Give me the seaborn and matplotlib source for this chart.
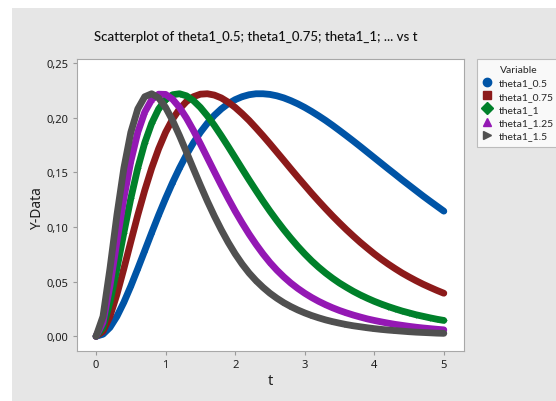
import matplotlib
matplotlib.use("Agg")
import matplotlib.pyplot as plt
from matplotlib.lines import Line2D
from matplotlib.patches import Rectangle
from matplotlib.ticker import FuncFormatter
import pandas as pd
import seaborn as sns

# values
t = [0.0, 0.1, 0.2, 0.3, 0.4, 0.5, 0.6, 0.7, 0.8, 0.9,
     1.0, 1.1, 1.2, 1.3, 1.4, 1.5, 1.6, 1.7, 1.8, 1.9,
     2.0, 2.1, 2.2, 2.3, 2.4, 2.5, 2.6, 2.7, 2.8, 2.9,
     3.0, 3.1, 3.2, 3.3, 3.4, 3.5, 3.6, 3.7, 3.8, 3.9,
     4.0, 4.1, 4.2, 4.3, 4.4, 4.5, 4.6, 4.7, 4.8, 4.9, 5.0]

theta1_0_5 = [0.0000, 0.0019, 0.0081, 0.0182, 0.0311, 0.0459, 0.0619, 0.0783, 0.0948, 0.1109,
              0.1262, 0.1406, 0.1539, 0.1661, 0.1770, 0.1866, 0.1949, 0.2021, 0.2080, 0.2128,
              0.2165, 0.2192, 0.2210, 0.2219, 0.2219, 0.2213, 0.2200, 0.2181, 0.2156, 0.2127,
              0.2094, 0.2057, 0.2017, 0.1975, 0.1930, 0.1883, 0.1835, 0.1786, 0.1736, 0.1685,
              0.1634, 0.1583, 0.1532, 0.1482, 0.1431, 0.1382, 0.1333, 0.1284, 0.1237, 0.1191, 0.1145]

theta1_0_75 = [0.0000, 0.0045, 0.0182, 0.0383, 0.0619, 0.0866, 0.1109, 0.1335, 0.1539, 0.1716,
               0.1866, 0.1986, 0.2080, 0.2148, 0.2192, 0.2215, 0.2219, 0.2207, 0.2181, 0.2142,
               0.2094, 0.2037, 0.1975, 0.1906, 0.1835, 0.1761, 0.1685, 0.1609, 0.1532, 0.1456,
               0.1382, 0.1308, 0.1237, 0.1168, 0.1101, 0.1037, 0.0975, 0.0916, 0.0859, 0.0806,
               0.0754, 0.0706, 0.0661, 0.0619, 0.0579, 0.0543, 0.0509, 0.0477, 0.0448, 0.0420, 0.0394]

theta1_1 = [0.0000, 0.0081, 0.0311, 0.0619, 0.0948, 0.1262, 0.1539, 0.1770, 0.1949, 0.2080,
            0.2165, 0.2210, 0.2219, 0.2200, 0.2156, 0.2094, 0.2017, 0.1930, 0.1835, 0.1736,
            0.1634, 0.1532, 0.1431, 0.1333, 0.1237, 0.1145, 0.1058, 0.0975, 0.0897, 0.0823,
            0.0754, 0.0690, 0.0632, 0.0579, 0.0531, 0.0487, 0.0448, 0.0411, 0.0378, 0.0348,
            0.0320, 0.0295, 0.0272, 0.0251, 0.0231, 0.0214, 0.0197, 0.0183, 0.0169, 0.0156, 0.0145]

theta1_1_25 = [0.0000, 0.0127, 0.0459, 0.0866, 0.1262, 0.1601, 0.1866, 0.2051, 0.2165, 0.2215,
               0.2213, 0.2169, 0.2094, 0.1996, 0.1883, 0.1761, 0.1634, 0.1507, 0.1382, 0.1261,
               0.1145, 0.1037, 0.0935, 0.0841, 0.0754, 0.0675, 0.0605, 0.0543, 0.0487, 0.0438,
               0.0394, 0.0355, 0.0320, 0.0289, 0.0261, 0.0236, 0.0214, 0.0194, 0.0176, 0.0159,
               0.0145, 0.0132, 0.0120, 0.0109, 0.0100, 0.0091, 0.0083, 0.0076, 0.0070, 0.0064, 0.0059]

theta1_1_5 = [0.0000, 0.0182, 0.0619, 0.1109, 0.1539, 0.1866, 0.2080, 0.2192, 0.2219, 0.2181,
              0.2094, 0.1975, 0.1835, 0.1685, 0.1532, 0.1382, 0.1237, 0.1101, 0.0975, 0.0859,
              0.0754, 0.0661, 0.0579, 0.0509, 0.0448, 0.0394, 0.0348, 0.0307, 0.0272, 0.0241,
              0.0214, 0.0190, 0.0169, 0.0150, 0.0134, 0.0120, 0.0107, 0.0096, 0.0087, 0.0078,
              0.0070, 0.0063, 0.0057, 0.0052, 0.0047, 0.0042, 0.0038, 0.0035, 0.0032, 0.0029, 0.0027]

names = ["theta1_0.5", "theta1_0.75", "theta1_1", "theta1_1.25", "theta1_1.5"]
series = [theta1_0_5, theta1_0_75, theta1_1, theta1_1_25, theta1_1_5]
colors = ["#0054a6", "#8c1a1a", "#00802a", "#9418b4", "#505050"]
markers = ["o", "s", "D", "^", ">"]

y_ticks = [0.0, 0.05, 0.10, 0.15, 0.20, 0.25]
x_ticks = [0, 1, 2, 3, 4, 5]

rows = []
for name, vals in zip(names, series):
    for tt, v in zip(t, vals):
        rows.append({"t": tt, "Y-Data": v, "Variable": name})
df = pd.DataFrame(rows)

# %%
sns.set_style("white")
plt.rcParams["font.family"] = ["Noto Sans", "DejaVu Sans"]

W, H = 556, 402
fig = plt.figure(figsize=(W / 100, H / 100), dpi=100)
fig.patch.set_facecolor("white")
fig.add_artist(Rectangle((12 / W, 0), 1 - 12 / W, (H - 9) / H, transform=fig.transFigure,
                         facecolor="#e6e6e6", edgecolor="none", zorder=0))

left, right, top, bottom = 76.5, 464, 60, 351.5
ax = fig.add_axes([left / W, (H - bottom) / H, (right - left) / W, (bottom - top) / H])
ax.set_facecolor("white")

for name, c, m in zip(names, colors, markers):
    sub = df[df["Variable"] == name]
    sns.lineplot(data=sub, x="t", y="Y-Data", color=c, linewidth=4.9, sort=False,
                 estimator=None, ax=ax, legend=False, solid_capstyle="round",
                 solid_joinstyle="round")
    sns.scatterplot(data=sub, x="t", y="Y-Data", color=c, marker=m, s=10, linewidth=0,
                    ax=ax, legend=False)

ax.set_xlim(-0.281, 5.29)
ax.set_ylim(-0.0130, 0.2537)
ax.set_xticks(x_ticks)
ax.set_yticks(y_ticks)
ax.yaxis.set_major_formatter(FuncFormatter(lambda v, _: f"{v:.2f}".replace(".", ",")))
ax.tick_params(direction="out", length=3, width=0.8, color="#9a9a9a",
               labelcolor="#1e1e1e", labelsize=8, pad=3)
ax.tick_params(axis="both", which="both", bottom=True, left=True)
for sp in ax.spines.values():
    sp.set_color("#a8a8a8")
    sp.set_linewidth(0.8)
ax.set_xlabel("")
ax.set_ylabel("")

fig.text(256 / W, 1 - 37 / H, "Scatterplot of theta1_0.5; theta1_0.75; theta1_1; ... vs t",
         ha="center", va="center", fontsize=9.5, color="#111111",
         family=["Lato", "DejaVu Sans"], fontweight="medium")
fig.text(38 / W, 1 - 209 / H, "Y-Data", rotation=90, ha="center", va="center",
         fontsize=10, color="#1e1e1e")
fig.text(270 / W, 1 - 382 / H, "t", ha="center", va="center", fontsize=10.5, color="#1e1e1e")

handles = [Line2D([], [], marker=m, color=c, linestyle="none", markersize=6)
           for c, m in zip(colors, markers)]
leg = fig.legend(handles, names, loc="upper left", bbox_to_anchor=(477 / W, 1 - 60 / H),
                 bbox_transform=fig.transFigure, title="Variable",
                 prop={"family": ["Lato", "DejaVu Sans"], "size": 7.5},
                 frameon=True, fancybox=False, borderpad=0.6,
                 labelspacing=0.38, handlelength=0.8, handletextpad=0.7, borderaxespad=0)
leg.get_title().set_fontfamily(["Lato", "DejaVu Sans"])
leg.get_title().set_fontsize(7.5)
leg.get_frame().set_edgecolor("#b0b0b0")
leg.get_frame().set_linewidth(0.8)
leg.get_frame().set_facecolor("white")

fig.savefig("out.png", dpi=100)
